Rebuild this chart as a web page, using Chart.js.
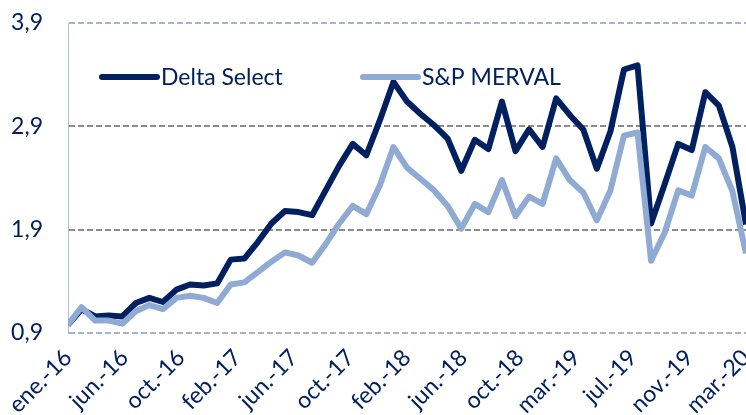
<!DOCTYPE html>
<html>
<head>
<meta charset="utf-8">
<script src="https://cdn.jsdelivr.net/npm/chart.js@4.4.1/dist/chart.umd.min.js"></script>
<style>
  html, body { margin: 0; padding: 0; background: #fff; }
  #wrap { width: 746px; height: 415px; position: relative; }
</style>
</head>
<body>
<div id="wrap"><canvas id="chart"></canvas></div>
<script>
// monthly, ene.-16 .. mar.-20
const deltaSelect = [
    0.98, 1.13, 1.06, 1.07, 1.06, 1.19, 1.24, 1.20, 1.32, 1.37,
    1.36, 1.38, 1.61, 1.62, 1.78, 1.96, 2.08, 2.07, 2.04, 2.28,
    2.52, 2.73, 2.62, 2.96, 3.33, 3.14, 3.02, 2.91, 2.78, 2.47,
    2.77, 2.68, 3.14, 2.66, 2.87, 2.70, 3.17, 3.01, 2.87, 2.49,
    2.85, 3.45, 3.49, 1.96, 2.34, 2.73, 2.67, 3.23, 3.10, 2.70,
    1.95
];
const merval = [
    0.98, 1.15, 1.02, 1.02, 0.99, 1.11, 1.17, 1.13, 1.24, 1.26,
    1.24, 1.19, 1.37, 1.39, 1.49, 1.59, 1.68, 1.65, 1.58, 1.76,
    1.96, 2.13, 2.05, 2.33, 2.70, 2.50, 2.39, 2.28, 2.13, 1.91,
    2.15, 2.07, 2.38, 2.03, 2.22, 2.15, 2.59, 2.38, 2.26, 1.99,
    2.28, 2.81, 2.84, 1.60, 1.87, 2.28, 2.23, 2.70, 2.59, 2.27,
    1.67
];
const xTickLabels = ['ene.-16', 'jun.-16', 'oct.-16', 'feb.-17', 'jun.-17', 'oct.-17',
    'feb.-18', 'jun.-18', 'oct.-18', 'mar.-19', 'jul.-19', 'nov.-19', 'mar.-20'];
const yTicks = [0.9, 1.9, 2.9, 3.9];

const navy = '#002060';
const lightBlue = '#8FAAD3';
const font = { family: 'Lato', size: 23 };
const lastIdx = deltaSelect.length - 1;

const toPoints = arr => arr.map((v, i) => ({ x: i, y: v }));

// legend drawn inside the plot, like the original
const legendPlugin = {
    id: 'insideLegend',
    afterDraw(chart) {
        const ctx = chart.ctx;
        const items = [[0, 102], [1, 363]];
        ctx.save();
        ctx.font = font.size + 'px ' + font.family;
        ctx.textBaseline = 'middle';
        items.forEach(([i, x]) => {
            const ds = chart.data.datasets[i];
            const y = 77;
            ctx.strokeStyle = ds.borderColor;
            ctx.lineWidth = ds.borderWidth;
            ctx.lineCap = 'round';
            ctx.beginPath();
            ctx.moveTo(x, y);
            ctx.lineTo(x + 55, y);
            ctx.stroke();
            ctx.fillStyle = navy;
            ctx.fillText(ds.label, x + 59, y + 1);
        });
        ctx.restore();
    }
};

new Chart(document.getElementById('chart').getContext('2d'), {
    type: 'line',
    data: {
        datasets: [{
            label: 'Delta Select',
            data: toPoints(deltaSelect),
            borderColor: navy,
            borderWidth: 6,
            pointRadius: 0,
            borderJoinStyle: 'round',
            order: 2
        }, {
            label: 'S&P MERVAL',
            data: toPoints(merval),
            borderColor: lightBlue,
            borderWidth: 6,
            pointRadius: 0,
            borderJoinStyle: 'round',
            order: 1
        }]
    },
    options: {
        responsive: true,
        maintainAspectRatio: false,
        animation: false,
        layout: { padding: { top: 23, right: 0, left: 0, bottom: 0 } },
        plugins: {
            legend: { display: false },
            tooltip: { enabled: false }
        },
        scales: {
            x: {
                type: 'linear',
                min: 0,
                max: lastIdx,
                afterBuildTicks: scale => {
                    scale.ticks = xTickLabels.map((_, k) => ({ value: k * lastIdx / (xTickLabels.length - 1) }));
                },
                afterFit: scale => {
                    scale.height = 82;
                    scale.paddingLeft = 0;
                    scale.paddingRight = 0;
                    scale.paddingTop = 0;
                    scale.paddingBottom = 0;
                },
                grid: { display: false, drawTicks: false },
                border: { display: false },
                ticks: {
                    color: navy,
                    font,
                    minRotation: 45,
                    maxRotation: 45,
                    padding: 11,
                    callback: (v, i) => xTickLabels[i]
                }
            },
            y: {
                min: 0.9,
                max: 3.9,
                afterBuildTicks: scale => {
                    scale.ticks = yTicks.map(v => ({ value: v }));
                },
                afterFit: scale => {
                    scale.width = 68;
                    scale.paddingTop = 0;
                    scale.paddingBottom = 0;
                },
                grid: {
                    drawTicks: false,
                    lineWidth: 2,
                    color: c => (c.index === 0 || c.index === yTicks.length - 1) ? '#A7B3C8' : '#8C8C8C'
                },
                border: { display: true, color: '#A9BFE3', width: 1, dash: [6, 3] },
                ticks: {
                    color: navy,
                    font,
                    padding: 25,
                    callback: v => v.toFixed(1).replace('.', ',')
                }
            }
        }
    },
    plugins: [legendPlugin]
});
</script>
</body>
</html>
